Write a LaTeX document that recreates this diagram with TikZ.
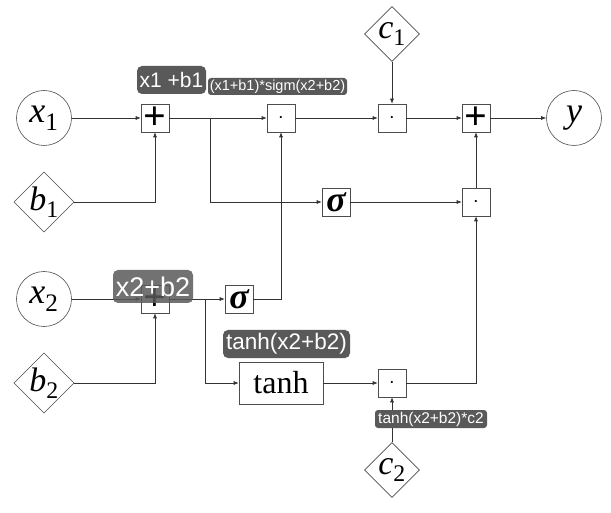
\documentclass[tikz,border=0pt]{standalone}
\usepackage{fontspec}
\setmainfont{Liberation Serif}
\newfontfamily\lblfont{Liberation Sans}
\usetikzlibrary{shapes.geometric,arrows.meta}
\begin{document}
\begin{tikzpicture}[x=1pt,y=-1pt,
  line width=0.6pt,
  conn/.style={draw=black!80,-{Latex[length=5pt,width=4pt]}},
  var/.style={circle,draw=black!70,inner sep=0pt,minimum size=55pt,font=\fontsize{36}{36}\selectfont},
  par/.style={diamond,draw=black!70,inner sep=0pt,minimum width=55pt,minimum height=55pt,font=\fontsize{34}{34}\selectfont},
  opbox/.style={rectangle,draw=black!70,inner sep=0pt,minimum size=28pt},
  plusop/.style={opbox,font=\fontsize{40}{40}\selectfont\bfseries},
  dotop/.style={opbox,font=\fontsize{9}{9}\selectfont},
  sigop/.style={opbox,font=\fontsize{36}{36}\selectfont\bfseries\itshape},
  lbl/.style={rectangle,rounded corners=5pt,fill=black!65,text=white,inner sep=0pt,font=\lblfont},
]
\useasboundingbox (0,0) rectangle (611,513);
% inputs
\node[var] (x1) at (44,118) {\textit{x}\textsubscript{1}};
\node[par] (b1) at (44,202) {\textit{b}\textsubscript{1}};
\node[var] (x2) at (44,299) {\textit{x}\textsubscript{2}};
\node[par] (b2) at (44,383) {\textit{b}\textsubscript{2}};
\node[par] (c1) at (392,34) {\textit{c}\textsubscript{1}};
\node[par] (c2) at (392,470) {\textit{c}\textsubscript{2}};
\node[var] (y) at (574,118) {\textit{y}};
% operations
\node[plusop] (p1) at (155,118) {+};
\node[plusop] (p2) at (155,299) {+};
\node[dotop] (m1) at (281,118) {\textbullet};
\node[dotop] (m2) at (392,118) {\textbullet};
\node[plusop] (p3) at (476,118) {+};
\node[sigop] (s1) at (336,202) {σ};
\node[dotop] (m4) at (476,202) {\textbullet};
\node[sigop] (s2) at (239,299) {σ};
\node[rectangle,draw=black!70,inner sep=0pt,minimum width=84pt,minimum height=42pt,font=\fontsize{32}{32}\selectfont] (th) at (281,383) {tanh};
\node[dotop] (m5) at (392,383) {\textbullet};
% branch points
\coordinate (br1) at (210,118);
\coordinate (br2) at (205,299);
% connectors
\draw[conn] (x1) -- (p1);
\draw[conn] (b1) -| (p1);
\draw[conn] (p1) -- (m1);
\draw[conn] (br1) |- (s1);
\draw[conn] (s1) -- (m4);
\draw[conn] (x2) -- (p2);
\draw[conn] (b2) -| (p2);
\draw[conn] (p2) -- (s2);
\draw[conn] (s2) -| (m1);
\draw[conn] (br2) |- (th);
\draw[conn] (th) -- (m5);
\draw[conn] (c2) -- (m5);
\draw[conn] (m5) -| (m4);
\draw[conn] (m4) -- (p3);
\draw[conn] (m1) -- (m2);
\draw[conn] (c1) -- (m2);
\draw[conn] (m2) -- (p3);
\draw[conn] (p3) -- (y);
% labels
\node[lbl,minimum width=69pt,minimum height=28pt,font=\lblfont\fontsize{21}{21}\selectfont] (l1) at (171.5,80) {x1 +b1};
\node[lbl,rounded corners=3pt,minimum width=139pt,minimum height=17pt,font=\lblfont\fontsize{14.5}{14.5}\selectfont] (l2) at (277.5,86.5) {(x1+b1)*sigm(x2+b2)};
\node[lbl,fill opacity=0.85,text opacity=1,minimum width=80pt,minimum height=33pt,font=\lblfont\fontsize{27}{27}\selectfont] (l3) at (153,286.5) {x2+b2};
\node[lbl,minimum width=127pt,minimum height=28pt,font=\lblfont\fontsize{22.5}{22.5}\selectfont] (l4) at (286.5,344) {tanh(x2+b2)};
\node[lbl,rounded corners=3pt,minimum width=112pt,minimum height=18pt,font=\lblfont\fontsize{15.5}{15.5}\selectfont] (l5) at (431,419) {tanh(x2+b2)*c2};
\end{tikzpicture}
\end{document}
